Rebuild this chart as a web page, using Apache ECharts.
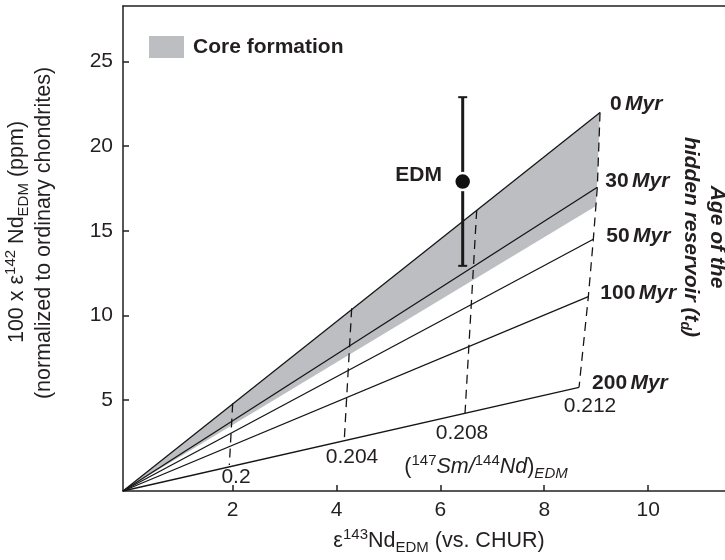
<!DOCTYPE html>
<html>
<head>
<meta charset="utf-8">
<script src="https://cdn.jsdelivr.net/npm/echarts@6/dist/echarts.min.js"></script>
<style>
  html, body { margin: 0; padding: 0; background: #fff; }
  #chart { width: 725px; height: 560px; }
</style>
</head>
<body>
<div id="chart"></div>
<script>
// Age of the hidden reservoir: each model line runs from the common origin to its end point
const ageNames = ['0', '30', '50', '100', '200'];
const lineOrigin = [-0.11, -0.38];
const ageEndX = [9.074, 9.022, 8.945, 8.849, 8.670];
const ageEndY = [21.99, 17.58, 14.50, 11.11, 5.75];

// Core formation band (between the 0 Myr line and its lower edge)
const coreBand = [[-0.11, -0.38], [9.074, 21.99], [8.997, 16.47]];

// (147Sm/144Nd) isochrons, dashed
const ratioNames = ['0.2', '0.204', '0.208', '0.212'];
const isoX = [
  [2.002, 1.937],
  [4.293, 4.151],
  [6.700, 6.475],
  [9.074, 9.022, 8.945, 8.849, 8.670]
];
const isoY = [
  [4.79, 1.16],
  [10.42, 2.68],
  [16.23, 4.23],
  [21.99, 17.58, 14.50, 11.11, 5.75]
];

// EDM measurement with its error bar
const edmX = 6.43;
const edmY = 17.91;
const edmLow = 12.93;
const edmHigh = 22.90;

// Axis ticks
const xTicks = [2, 4, 6, 8, 10];
const yTicks = [5, 10, 15, 20, 25];

const FONT = '"Liberation Sans", Arial, Helvetica, sans-serif';
const INK = '#231f20';
const GRAY = '#bdbec1';

const chart = echarts.init(document.getElementById('chart'));

// end label offsets per age line
const endOffsets = [[10, -8], [8, -6], [13, -3], [12, -3], [13, -4]];

const ageSeries = ageNames.map((name, i) => ({
  type: 'line',
  name: name + ' Myr',
  data: [lineOrigin, [ageEndX[i], ageEndY[i]]],
  showSymbol: false,
  symbol: 'none',
  silent: true,
  z: 3,
  lineStyle: { color: '#151515', width: 1.3 },
  endLabel: {
    show: true,
    distance: 0,
    offset: endOffsets[i],
    formatter: '{n|' + name + '} {i|Myr}',
    rich: {
      n: { fontFamily: FONT, fontSize: 21, fontWeight: 'bold', color: INK },
      i: { fontFamily: FONT, fontSize: 21, fontWeight: 'bold', fontStyle: 'italic', color: INK }
    }
  }
}));

const isoSeries = ratioNames.map((name, i) => ({
  type: 'line',
  name: 'ratio ' + name,
  data: isoX[i].map((x, k) => [x, isoY[i][k]]),
  showSymbol: false,
  symbol: 'none',
  silent: true,
  z: 2,
  lineStyle: { color: '#151515', width: 1.3, type: [9, 6] }
}));

// positions of isochron value labels
const ratioLabelPos = [[236, 477], [352, 457], [462, 433], [590, 406]];

const subRich = {
  sup: { fontFamily: FONT, fontSize: 15, verticalAlign: 'top', fill: INK, lineHeight: 28 },
  sub: { fontFamily: FONT, fontSize: 15, verticalAlign: 'bottom', fill: INK, lineHeight: 28 },
  subi: { fontFamily: FONT, fontSize: 15, fontStyle: 'italic', verticalAlign: 'bottom', fill: INK, lineHeight: 28 },
  t: { fontFamily: FONT, fontSize: 21.5, verticalAlign: 'middle', fill: INK, lineHeight: 28 },
  ti: { fontFamily: FONT, fontSize: 21.5, fontStyle: 'italic', verticalAlign: 'middle', fill: INK, lineHeight: 28 }
};

const rightRich = {
  b: { fontFamily: FONT, fontSize: 21, fontWeight: 'bold', fontStyle: 'italic', fill: INK, verticalAlign: 'middle', lineHeight: 26 },
  s: { fontFamily: FONT, fontSize: 14, fontWeight: 'bold', fontStyle: 'italic', fill: INK, verticalAlign: 'bottom', lineHeight: 26 }
};

const option = {
  animation: false,
  backgroundColor: '#fff',
  grid: { left: 123, right: 0, top: 6, bottom: 69 },
  legend: {
    left: 144,
    top: 31,
    itemWidth: 35,
    itemHeight: 22,
    selectedMode: false,
    textStyle: { fontFamily: FONT, fontSize: 21, fontWeight: 'bold', color: INK, padding: [0, 0, 0, 4] },
    data: [{ name: 'Core formation', icon: 'rect', itemStyle: { color: GRAY } }]
  },
  xAxis: [{
    type: 'value',
    min: -0.11,
    max: 11.48,
    splitLine: { show: false },
    axisLine: { show: true, onZero: false, lineStyle: { color: INK, width: 1.5 } },
    axisTick: { show: true, inside: true, length: 6, customValues: xTicks, lineStyle: { color: INK, width: 1.5 } },
    axisLabel: { show: true, margin: 9, customValues: xTicks, fontFamily: FONT, fontSize: 21, color: INK }
  }, {
    type: 'value',
    position: 'top',
    min: -0.11,
    max: 11.48,
    splitLine: { show: false },
    axisLine: { show: true, onZero: false, lineStyle: { color: INK, width: 1.5 } },
    axisTick: { show: false },
    axisLabel: { show: false }
  }],
  yAxis: {
    type: 'value',
    min: -0.38,
    max: 28.29,
    splitLine: { show: false },
    axisLine: { show: true, onZero: false, lineStyle: { color: INK, width: 1.5 } },
    axisTick: { show: true, inside: true, length: 6, customValues: yTicks, lineStyle: { color: INK, width: 1.5 } },
    axisLabel: { show: true, margin: 10, customValues: yTicks, fontFamily: FONT, fontSize: 21, color: INK }
  },
  series: [
    {
      type: 'custom',
      name: 'Core formation',
      silent: true,
      z: 1,
      itemStyle: { color: GRAY },
      data: coreBand,
      renderItem: (params, api) => {
        if (params.dataIndex !== 0) return;
        const pts = coreBand.map(p => api.coord(p));
        return { type: 'polygon', shape: { points: pts }, style: { fill: GRAY } };
      }
    },
    ...isoSeries,
    ...ageSeries,
    {
      type: 'custom',
      name: 'EDM error',
      silent: true,
      z: 4,
      data: [[edmX, edmLow, edmHigh]],
      encode: { x: 0, y: [1, 2] },
      renderItem: (params, api) => {
        const lo = api.coord([api.value(0), api.value(1)]);
        const hi = api.coord([api.value(0), api.value(2)]);
        const cap = 4.5;
        const st = { stroke: '#1a1a1a', lineWidth: 3 };
        return {
          type: 'group',
          children: [
            { type: 'line', shape: { x1: lo[0], y1: lo[1], x2: hi[0], y2: hi[1] }, style: st },
            { type: 'line', shape: { x1: lo[0] - cap, y1: lo[1], x2: lo[0] + cap, y2: lo[1] }, style: { stroke: '#1a1a1a', lineWidth: 2 } },
            { type: 'line', shape: { x1: hi[0] - cap, y1: hi[1], x2: hi[0] + cap, y2: hi[1] }, style: { stroke: '#1a1a1a', lineWidth: 2 } }
          ]
        };
      }
    },
    {
      type: 'scatter',
      name: 'EDM',
      silent: true,
      z: 5,
      data: [[edmX, edmY]],
      symbol: 'circle',
      symbolSize: 17,
      itemStyle: { color: '#111', opacity: 1, borderColor: '#fff', borderWidth: 2.5 },
      label: {
        show: true,
        position: 'left',
        distance: 11,
        offset: [0, -6],
        formatter: 'EDM',
        fontFamily: FONT,
        fontSize: 21,
        fontWeight: 'bold',
        color: INK,
        opacity: 1
      }
    }
  ],
  graphic: [
    ...ratioNames.map((name, i) => ({
      type: 'text',
      x: ratioLabelPos[i][0],
      y: ratioLabelPos[i][1],
      silent: true,
      style: { text: name, fontFamily: FONT, fontSize: 21, fill: INK, align: 'center', verticalAlign: 'middle' }
    })),
    {
      type: 'text',
      x: 486,
      y: 467,
      silent: true,
      style: {
        text: '{t|(}{sup|147}{ti|Sm/}{sup|144}{ti|Nd}{t|)}{subi|EDM}',
        align: 'center',
        verticalAlign: 'middle',
        rich: subRich
      }
    },
    {
      type: 'text',
      x: 439,
      y: 541,
      silent: true,
      style: {
        text: '{t|ε}{sup|143}{t|Nd}{sub|EDM}{t| (vs. CHUR)}',
        align: 'center',
        verticalAlign: 'middle',
        rich: subRich
      }
    },
    {
      type: 'text',
      x: 17,
      y: 232,
      rotation: Math.PI / 2,
      silent: true,
      style: {
        text: '{t|100 x ε}{sup|142}{t| Nd}{sub|EDM}{t| (ppm)}',
        align: 'center',
        verticalAlign: 'middle',
        rich: subRich
      }
    },
    {
      type: 'text',
      x: 44,
      y: 233,
      rotation: Math.PI / 2,
      silent: true,
      style: {
        text: '(normalized to ordinary chondrites)',
        fontFamily: FONT,
        fontSize: 21.5,
        fill: INK,
        align: 'center',
        verticalAlign: 'middle'
      }
    },
    {
      type: 'text',
      x: 717,
      y: 237,
      rotation: -Math.PI / 2,
      silent: true,
      style: {
        text: '{b|Age of the}',
        align: 'center',
        verticalAlign: 'middle',
        rich: rightRich
      }
    },
    {
      type: 'text',
      x: 691,
      y: 237,
      rotation: -Math.PI / 2,
      silent: true,
      style: {
        text: '{b|hidden reservoir (t}{s|d}{b|)}',
        align: 'center',
        verticalAlign: 'middle',
        rich: rightRich
      }
    }
  ]
};

chart.setOption(option);
</script>
</body>
</html>
